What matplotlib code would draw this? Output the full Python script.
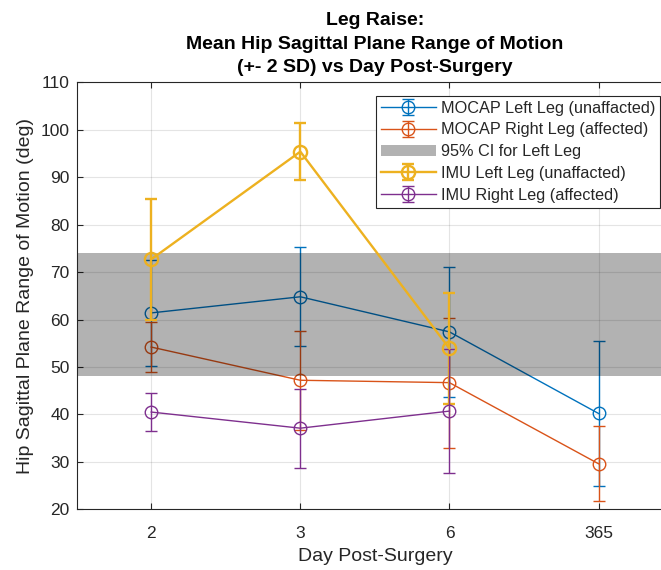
import matplotlib
matplotlib.use("Agg")
import matplotlib.pyplot as plt

plt.rcParams['font.family'] = ['Liberation Sans', 'DejaVu Sans']

days = ["2", "3", "6", "365"]

mocap_left = [61.4, 64.8, 57.4, 40.2]
mocap_left_sd2 = [11.2, 10.4, 13.7, 15.2]
mocap_right = [54.2, 47.2, 46.7, 29.6]
mocap_right_sd2 = [5.3, 10.4, 13.7, 7.9]

imu_left = [72.7, 95.4, 53.9]
imu_left_sd2 = [12.7, 6.05, 11.8]
imu_right = [40.5, 37.1, 40.7]
imu_right_sd2 = [4.0, 8.3, 13.0]

ci_left = [48.05, 74.1]

blue = (0.0, 0.447, 0.741)
orange = (0.85, 0.325, 0.098)
yellow = (0.929, 0.694, 0.125)
purple = (0.494, 0.184, 0.556)
ink = (0.15, 0.15, 0.15)

fig = plt.figure(figsize=(6.61, 5.70), dpi=100)
ax = fig.add_axes([0.116, 0.1065, 0.9023, 0.749])

x_all = list(range(1, len(days) + 1))
x_imu = x_all[:len(imu_left)]

thin = dict(marker='o', markersize=9, markerfacecolor='none', capsize=4,
            linewidth=1.0, elinewidth=1.0, capthick=1.0, markeredgewidth=1.0)
thick = dict(marker='o', markersize=9.5, markerfacecolor='none', capsize=4,
             linewidth=1.7, elinewidth=1.7, capthick=1.7, markeredgewidth=1.7)

# MOCAP first, then the CI band (semi-transparent, on top of MOCAP), then IMU
h1 = ax.errorbar(x_all, mocap_left, yerr=mocap_left_sd2, color=blue, zorder=2,
                 label="MOCAP Left Leg (unaffacted)", **thin)
h2 = ax.errorbar(x_all, mocap_right, yerr=mocap_right_sd2, color=orange, zorder=2,
                 label="MOCAP Right Leg (affected)", **thin)
h3 = ax.axhspan(ci_left[0], ci_left[1], color='black', alpha=0.30, lw=0, zorder=2.5,
                label="95% CI for Left Leg")
h4 = ax.errorbar(x_imu, imu_left, yerr=imu_left_sd2, color=yellow, zorder=3,
                 label="IMU Left Leg (unaffacted)", **thick)
h5 = ax.errorbar(x_imu, imu_right, yerr=imu_right_sd2, color=purple, zorder=3,
                 label="IMU Right Leg (affected)", **thin)

ax.set_xlim(0.5, 4.5)
ax.set_ylim(20, 110)
ax.set_xticks(x_all)
ax.set_xticklabels(days)
ax.set_yticks(range(20, 111, 10))

ax.set_axisbelow(True)
ax.grid(True, color=ink, alpha=0.12, linewidth=0.8)
for s in ax.spines.values():
    s.set_color(ink)
    s.set_linewidth(0.8)
ax.tick_params(direction='in', length=4, width=0.8, colors=ink,
               labelsize=12.5, top=True, right=True)
ax.tick_params(axis='x', pad=12)
ax.tick_params(axis='y', pad=5)

ax.set_xlabel("Day Post-Surgery", fontsize=14, color=ink, labelpad=5)
ax.set_ylabel("Hip Sagittal Plane Range of Motion (deg)", fontsize=14,
              color=ink, labelpad=5)
ax.set_title("Leg Raise:\nMean Hip Sagittal Plane Range of Motion\n"
             "(+- 2 SD) vs Day Post-Surgery",
             fontsize=14, fontweight='bold', color='black',
             linespacing=1.48, pad=7.5)

handles = [h1, h2, h3, h4, h5]
leg = ax.legend(handles, [h.get_label() for h in handles],
                loc='upper left', bbox_to_anchor=(375.7 / 661, 1 - 95.7 / 570),
                bbox_transform=fig.transFigure, borderaxespad=0,
                fontsize=11.7, handlelength=3.4, handletextpad=0.3,
                labelspacing=0.42, borderpad=0.3, fancybox=False, framealpha=1)
leg.get_frame().set_edgecolor(ink)
leg.get_frame().set_linewidth(0.8)
for t in leg.get_texts():
    t.set_color(ink)

fig.savefig("out.png", dpi=100)
